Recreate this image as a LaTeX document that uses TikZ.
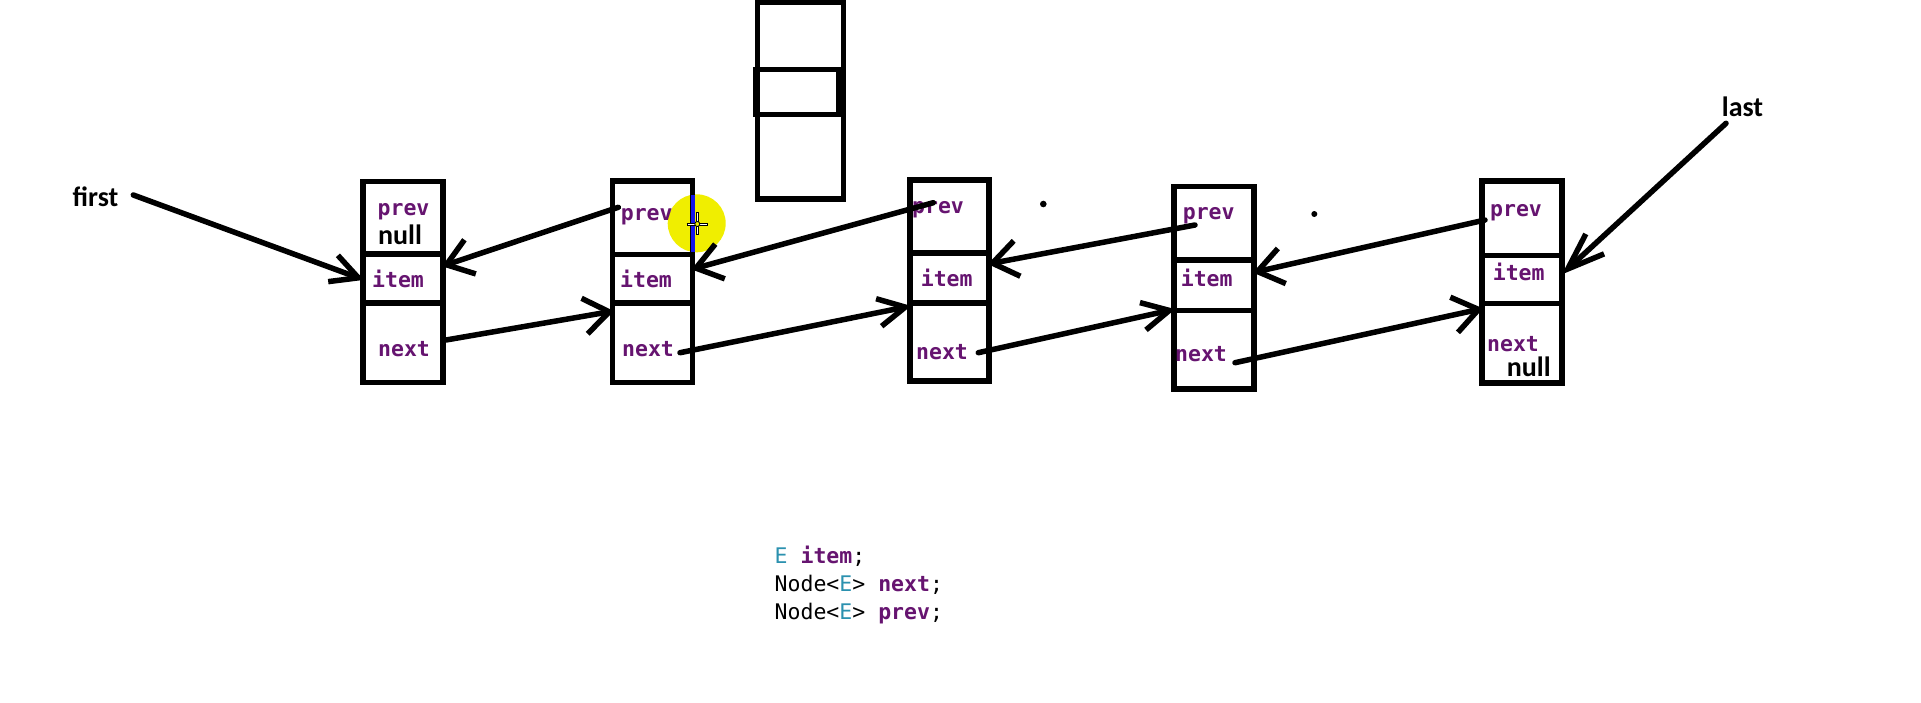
\documentclass[tikz,border=0pt]{standalone}
\usepackage{fontspec}
\usetikzlibrary{fit,arrows.meta}
\newfontfamily\codefont{DejaVu Sans Mono}
\newfontfamily\ptrfont{Carlito}
\definecolor{fieldpurple}{RGB}{102,20,112}
\definecolor{typeteal}{RGB}{43,145,175}
\definecolor{hilite}{RGB}{240,238,0}
\definecolor{caretblue}{RGB}{20,20,235}
\begin{document}
\begin{tikzpicture}[x=1pt,y=-1pt,
  cell/.style={draw=black, line width=5.5pt, rectangle, inner sep=0pt},
  fld/.style={font=\codefont\bfseries\fontsize{21.5}{24}\selectfont, text=fieldpurple, inner sep=0pt, anchor=base},
  nullval/.style={font=\ptrfont\bfseries\fontsize{28}{30}\selectfont, text=black, inner sep=0pt, anchor=base},
  ptr/.style={font=\ptrfont\bfseries\fontsize{28}{30}\selectfont, text=black, inner sep=0pt, anchor=base},
  code/.style={font=\codefont\fontsize{21.5}{24}\selectfont, text=black, inner sep=0pt, anchor=base west},
  link/.style={draw=black, line width=5.5pt, line cap=round, shorten >=-4pt},
  headwide/.style={-{Straight Barb[length=25pt,width=36pt]}},
  headnarrow/.style={-{Straight Barb[length=27pt,width=28pt]}},
  headlong/.style={-{Straight Barb[length=37pt,width=27pt]}}]

\useasboundingbox (0,0) rectangle (1921,702);
\fill[white] (0,0) rectangle (1921,702);

% cursor highlight behind the second node
\fill[hilite] (696.7,223.3) circle[radius=29pt];

% spare node sketch at the top
\node[cell, fit={(757.5,2.5) (843.5,199)}] (spare) {};
\node[cell, fit={(756,69.5) (838.5,114.5)}] (spareitem) {};

% the five list nodes: prev / item / next cells
\node[cell, fit={(363,181.5) (443,254)}] (p1) {};
\node[cell, fit={(363,254) (443,303)}] (i1) {};
\node[cell, fit={(363,303) (443,382.5)}] (n1) {};

\node[cell, fit={(612.7,181) (692.5,254.5)}] (p2) {};
\node[cell, fit={(612.7,254.5) (692.5,303)}] (i2) {};
\node[cell, fit={(612.7,303) (692.5,382.5)}] (n2) {};

\node[cell, fit={(910,180) (989,253)}] (p3) {};
\node[cell, fit={(910,253) (989,303)}] (i3) {};
\node[cell, fit={(910,303) (989,381)}] (n3) {};

\node[cell, fit={(1174,186.7) (1254,260)}] (p4) {};
\node[cell, fit={(1174,260) (1254,310.5)}] (i4) {};
\node[cell, fit={(1174,310.5) (1254,389)}] (n4) {};

\node[cell, fit={(1482,181) (1562,255.5)}] (p5) {};
\node[cell, fit={(1482,255.5) (1562,303.5)}] (i5) {};
\node[cell, fit={(1482,303.5) (1562,383)}] (n5) {};

% caret on the right edge of the second node
\draw[caretblue, line width=4.5pt] (693,195) -- (693,251.7);

% field labels
\node[fld] (tp1) at (403.5,215) {prev};
\node[nullval] (tnull1) at (400,244) {null};
\node[fld] (ti1) at (398,287) {item};
\node[fld] (tn1) at (404,356.7) {next};

\node[fld] (tp2) at (646.7,220) {prev};
\node[fld] (ti2) at (646,287.3) {item};
\node[fld] (tn2) at (648,356.7) {next};

\node[fld] (tp3) at (938,213.3) {prev};
\node[fld] (ti3) at (946.7,286.7) {item};
\node[fld] (tn3) at (942,359.3) {next};

\node[fld] (tp4) at (1208.7,219.3) {prev};
\node[fld] (ti4) at (1206.7,286) {item};
\node[fld] (tn4) at (1201,361.7) {next};

\node[fld] (tp5) at (1516,216.7) {prev};
\node[fld] (ti5) at (1518.7,280.7) {item};
\node[fld] (tn5) at (1513,351.7) {next};
\node[nullval] (tnull5) at (1528.7,376.7) {null};

% head and tail pointers
\node[ptr] (first) at (95.5,206.7) {first};
\node[ptr] (last) at (1742.5,116) {last};

% stray pen dots
\fill (1043.3,204) circle[radius=3.3pt];
\fill (1314.3,214) circle[radius=3pt];

% free ends of the links
\coordinate (firstend) at (133.3,195);
\coordinate (lastend) at (1726,123.3);
\coordinate (prev2) at (618.3,207.3);
\coordinate (prev3) at (933.3,202.7);
\coordinate (prev4) at (1195,225);
\coordinate (prev5) at (1485,220);
\coordinate (next1) at (446,340);
\coordinate (next2) at (680,352.7);
\coordinate (next3) at (978.3,352.7);
\coordinate (next4) at (1235,362.7);

% links
\draw[link, headnarrow] (firstend) -- (i1.west);
\draw[link, headlong] (lastend) -- (i5.east |- 0,271.7);

\draw[link, headwide] (prev2) -- (i1.east |- 0,265);
\draw[link, headwide] (prev3) -- (i2.east |- 0,268.3);
\draw[link, headwide] (prev4) -- (i3.east |- 0,263.3);
\draw[link, headwide] (prev5) -- (i4.east |- 0,271.7);

\draw[link, headwide] (next1) -- (n2.west |- 0,311.7);
\draw[link, headnarrow] (next2) -- (n3.west |- 0,306.7);
\draw[link, headnarrow] (next3) -- (n4.west |- 0,310);
\draw[link, headwide] (next4) -- (n5.west |- 0,309.3);

% mouse cursor crosshair
\draw[black, line width=3pt] (686.7,224) -- (708.3,224) (697.3,212.3) -- (697.3,235);
\draw[white, line width=1pt] (687.7,224) -- (707.3,224) (697.3,213.3) -- (697.3,234);
\filldraw[fill=hilite, draw=black, line width=0.8pt] (697.3,224) circle[radius=2.5pt];

% field declarations of the node class
\node[code] (c1) at (774.5,563) {\textcolor{typeteal}{E} \textcolor{fieldpurple}{\bfseries item};};
\node[code] (c2) at (774.5,591) {Node<\textcolor{typeteal}{E}> \textcolor{fieldpurple}{\bfseries next};};
\node[code] (c3) at (774.5,619) {Node<\textcolor{typeteal}{E}> \textcolor{fieldpurple}{\bfseries prev};};
\end{tikzpicture}
\end{document}
